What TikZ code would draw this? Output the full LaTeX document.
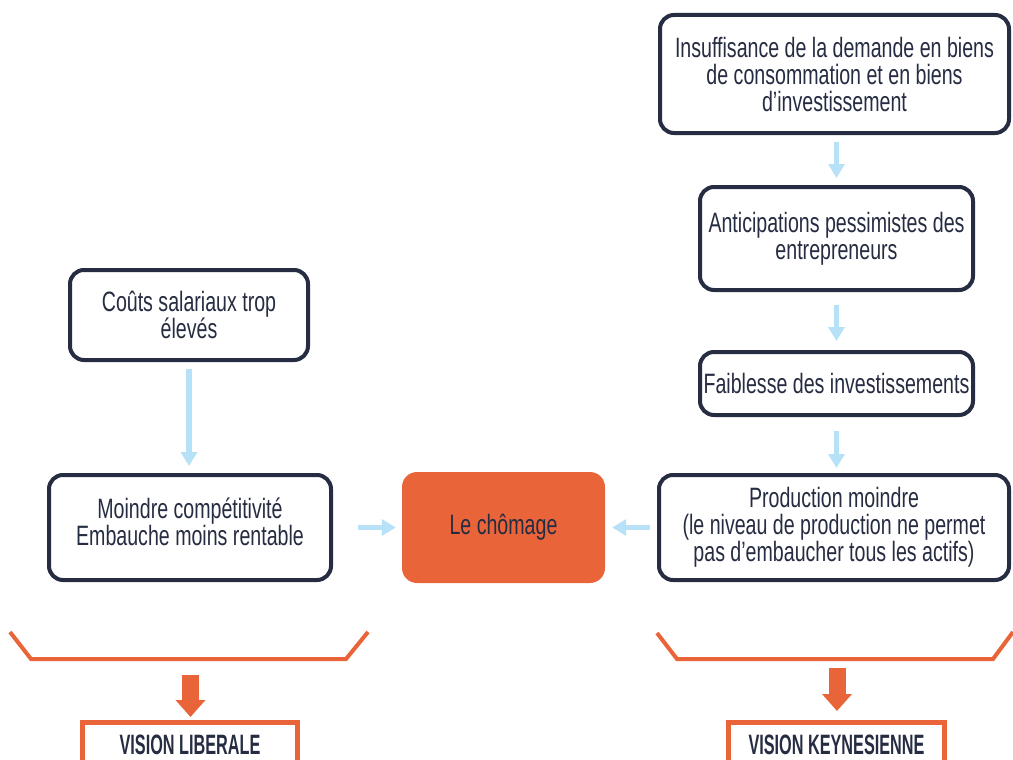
\documentclass[tikz,border=0pt]{standalone}
\usepackage{fontspec}
\setmainfont{Liberation Sans}[FakeStretch=0.70]
\newfontfamily\visionfont{Liberation Sans}[FakeStretch=0.58]
\usetikzlibrary{arrows.meta}
\definecolor{navy}{HTML}{262C41}
\definecolor{orng}{HTML}{EA6439}
\definecolor{lblue}{HTML}{B7E1F7}
\begin{document}
\begin{tikzpicture}[x=1pt,y=-1pt,
  box/.style={draw=navy, line width=4pt, rounded corners=14pt, fill=white, align=center,
    text=navy, font=\fontsize{28}{27}\selectfont, inner sep=0pt},
  chbox/.style={fill=orng, rounded corners=15pt, align=center, text=navy,
    font=\fontsize{28}{27}\selectfont, inner sep=0pt},
  barrow/.style={draw=lblue, line width=5.5pt, -{Triangle[width=16pt,length=14pt]}},
  oarrow/.style={draw=orng, line width=17pt, -{Triangle[width=29pt,length=17pt]}},
  bracket/.style={draw=orng, line width=4pt, line join=miter},
  vbox/.style={draw=orng, line width=5pt, fill=white, text=navy, anchor=north,
    font=\visionfont\bfseries\fontsize{28}{27}\selectfont,
    inner ysep=12pt, inner xsep=0pt, text height=20.5pt, text depth=30pt}
]
\useasboundingbox (0,0) rectangle (1013,760);
\clip (0,0) rectangle (1013,760);

% right column
\node[box, minimum width=349, minimum height=118] (b1) at (834.5,74)
  {Insuffisance de la demande en biens\\de consommation et en biens\\d’investissement};
\node[box, minimum width=273, minimum height=103] (b2) at (836.5,238.5)
  {Anticipations pessimistes des\\entrepreneurs};
\node[box, minimum width=273, minimum height=63] (b3) at (836.5,383.5)
  {Faiblesse des investissements};
\node[box, minimum width=350, minimum height=105] (b4) at (834,527.5)
  {Production moindre\\(le niveau de production ne permet\\pas d’embaucher tous les actifs)};

% left column
\node[box, minimum width=238, minimum height=90] (c1) at (189,315)
  {Coûts salariaux trop\\élevés};
\node[box, minimum width=282, minimum height=105, text depth=12pt] (c2) at (190,527.5)
  {Moindre compétitivité\\Embauche moins rentable};

% centre
\node[chbox, minimum width=203, minimum height=111] (ch) at (503.5,527.5) {Le chômage};

% light blue arrows
\draw[barrow, shorten <=7pt, shorten >=7pt] (b2.north |- b1.south) -- (b2.north);
\draw[barrow, shorten <=13pt, shorten >=9pt] (b2.south) -- (b3.north);
\draw[barrow, shorten <=14pt, shorten >=5pt] (b3.south) -- (b3.south |- b4.north);
\draw[barrow, shorten <=7pt, shorten >=7pt] (c1.south) -- (c1.south |- c2.north);
\draw[barrow, shorten <=25pt, shorten >=6pt] (c2.east) -- (ch.west);
\draw[barrow, shorten <=7pt, shorten >=7pt] (b4.west) -- (ch.east);

% brackets
\draw[bracket] (10,632) -- (31,659) -- (346,659) -- (368,632);
\draw[bracket] (657,633) -- (677,659) -- (993,659) -- (1013,632);

% vision boxes
\node[vbox, minimum width=215] (vl) at (190,719.5) {VISION LIBERALE};
\node[vbox, minimum width=216] (vk) at (836.5,719.5) {VISION KEYNESIENNE};

% orange arrows
\coordinate (la) at (190.5,675);
\coordinate (ra) at (837,668);
\draw[oarrow, shorten >=2.5pt] (la) -- (la |- vl.north);
\draw[oarrow, shorten >=8.5pt] (ra) -- (ra |- vk.north);
\end{tikzpicture}
\end{document}
